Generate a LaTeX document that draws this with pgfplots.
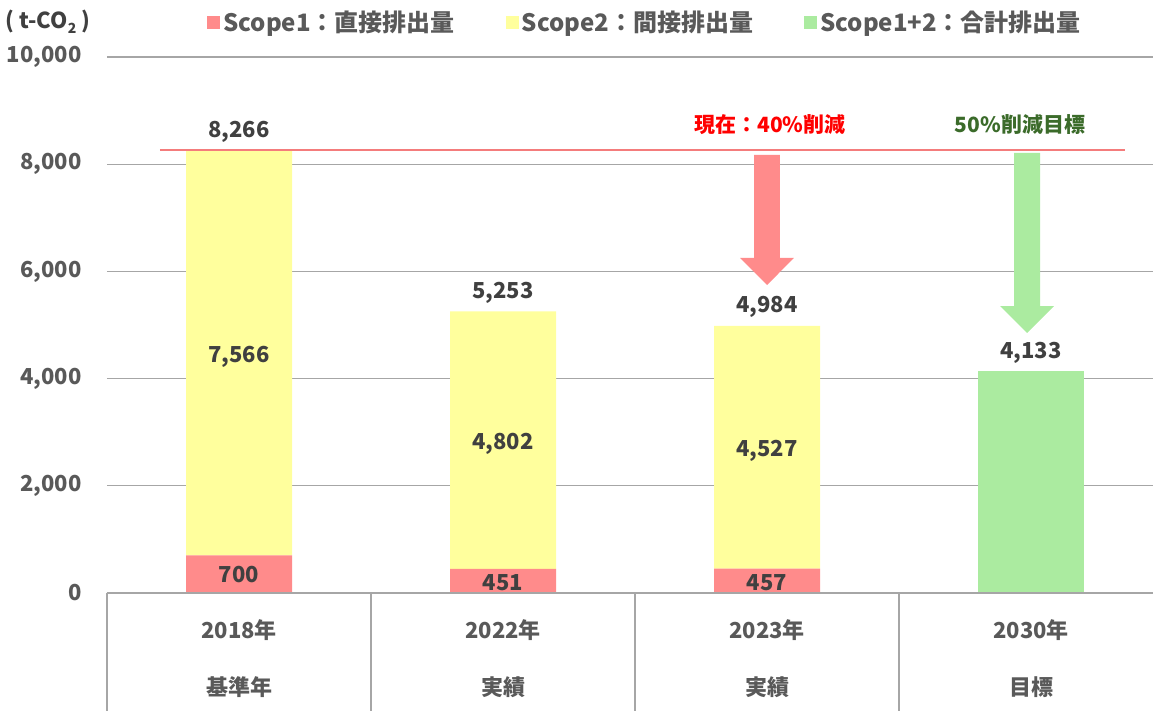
\documentclass[border=0pt]{standalone}
\usepackage{fontspec}
\setmainfont{Noto Sans CJK JP}
\usepackage{pgfplots}
\pgfplotsset{compat=1.18}
\definecolor{s1}{HTML}{FF8B8B}
\definecolor{s2}{HTML}{FFFF9D}
\definecolor{s3}{HTML}{ABEBA0}
\definecolor{txt}{HTML}{404040}
\definecolor{lgt}{HTML}{595959}
\definecolor{grd}{HTML}{A6A6A6}
\definecolor{dgreen}{HTML}{3B6B2A}
\definecolor{redline}{HTML}{F47C7C}
\tikzset{lab/.style={font=\bfseries\fontsize{22}{26}\selectfont, text=txt}}
\begin{document}
\begin{tikzpicture}
\begin{axis}[
  scale only axis, width=1046pt, height=536pt,
  xmin=-0.5, xmax=3.462, ymin=0, ymax=10000,
  ybar stacked, bar width=106pt,
  clip=false,
  axis line style={draw=none},
  ymajorgrids, grid style={grd, line width=1.2pt},
  ytick={0,2000,4000,6000,8000,10000},
  scaled y ticks=false,
  major tick length=0pt,
  /pgf/number format/assume math mode=true,
  /pgf/number format/1000 sep={,},
  yticklabel style={font=\bfseries\fontsize{22}{26}\selectfont, text=lgt, xshift=-22pt},
  xtick={0,1,2,3},
  xticklabels={{2018年\\基準年},{2022年\\実績},{2023年\\実績},{2030年\\目標}},
  xticklabel style={align=center, font=\bfseries\fontsize{22}{57}\selectfont, text=lgt, yshift=-23pt},
  legend columns=3,
  legend image code/.code={\fill[#1] (0pt,-6.5pt) rectangle (13pt,6.5pt);},
  legend style={at={(0.515,1.065)}, anchor=center, draw=none, fill=none,
    font=\bfseries\fontsize{24}{28}\selectfont, text=lgt,
    nodes={inner xsep=3pt},
    /tikz/every even column/.append style={column sep=48pt}},
]
\addplot[fill=s1, draw=none] coordinates {(0,700) (1,451) (2,457) (3,0)};
\addlegendentry{Scope1：直接排出量}
\addplot[fill=s2, draw=none] coordinates {(0,7566) (1,4802) (2,4527) (3,0)};
\addlegendentry{Scope2：間接排出量}
\addplot[fill=s3, draw=none] coordinates {(0,0) (1,0) (2,0) (3,4133)};
\addlegendentry{Scope1+2：合計排出量}

% reference points for annotations
\coordinate (o0) at (axis cs:-0.5,0);
\coordinate (o1) at (axis cs:0.5,0);
\coordinate (o2) at (axis cs:1.5,0);
\coordinate (o3) at (axis cs:2.5,0);
\coordinate (oe) at (axis cs:3.462,0);
\coordinate (rl1) at (axis cs:-0.3,8266);
\coordinate (rl2) at (axis cs:3.356,8266);
\coordinate (p1) at (axis cs:0,350);
\coordinate (p2) at (axis cs:1,225);
\coordinate (p3) at (axis cs:2,228);
\coordinate (q1) at (axis cs:0,4483);
\coordinate (q2) at (axis cs:1,2852);
\coordinate (q3) at (axis cs:2,2720);
\coordinate (t1) at (axis cs:0,8266);
\coordinate (t2) at (axis cs:1,5253);
\coordinate (t3) at (axis cs:2,4984);
\coordinate (t4) at (axis cs:3,4133);
% arrows
\fill[s1] (axis cs:1.951,8172) -- (axis cs:2.049,8172) -- (axis cs:2.049,6250) -- (axis cs:2.102,6250)
  -- (axis cs:2,5746) -- (axis cs:1.898,6250) -- (axis cs:1.951,6250) -- cycle;
\fill[s3] (axis cs:2.936,8209) -- (axis cs:3.034,8209) -- (axis cs:3.034,5354) -- (axis cs:3.087,5354)
  -- (axis cs:2.985,4851) -- (axis cs:2.883,5354) -- (axis cs:2.936,5354) -- cycle;
\node[font=\bfseries\fontsize{21}{25}\selectfont, text=red] at (axis cs:2.011,8731) {現在：40\%削減};
\node[font=\bfseries\fontsize{21}{25}\selectfont, text=dgreen] at (axis cs:2.958,8731) {50\%削減目標};
% y title
\node[lab, xshift=-59pt, yshift=35pt] at (rel axis cs:0,1)
  {( t-CO\raisebox{-0.35ex}{\fontsize{14}{14}\selectfont 2} )};

\coordinate (bl) at (rel axis cs:0,0);
\coordinate (tr) at (rel axis cs:1,1);
\end{axis}
% table lines
\draw[grd, line width=1.2pt] (o0) -- (oe);
\draw[grd, line width=1.2pt] (o0) -- ++(0pt,-130pt);
\draw[grd, line width=1.2pt] (o1) -- ++(0pt,-130pt);
\draw[grd, line width=1.2pt] (o2) -- ++(0pt,-130pt);
\draw[grd, line width=1.2pt] (o3) -- ++(0pt,-130pt);
% reference line
\draw[redline, line width=2pt] (rl1) -- (rl2);
% value labels
\node[lab] at (p1) {700};
\node[lab, yshift=-2pt] at (p2) {451};
\node[lab, yshift=-2pt] at (p3) {457};
\node[lab, yshift=-4pt] at (q1) {7,566};
\node[lab, yshift=-4pt] at (q2) {4,802};
\node[lab, yshift=-4pt] at (q3) {4,527};
\node[lab, yshift=18pt] at (t1) {8,266};
\node[lab, yshift=19pt] at (t2) {5,253};
\node[lab, yshift=19pt] at (t3) {4,984};
\node[lab, yshift=19pt] at (t4) {4,133};
\pgfresetboundingbox
\path ([xshift=-107pt,yshift=-118pt]bl) rectangle ([yshift=57pt]tr);
\end{tikzpicture}
\end{document}
